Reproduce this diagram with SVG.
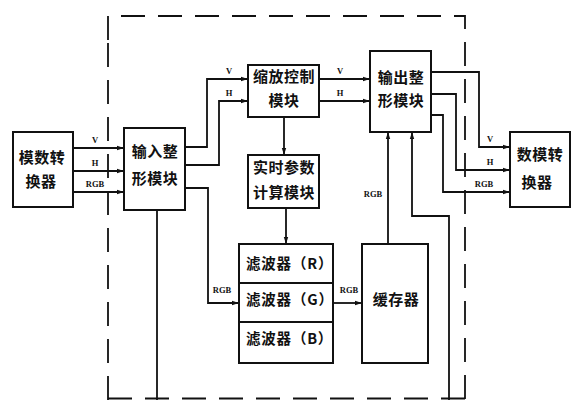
<svg xmlns="http://www.w3.org/2000/svg" width="577" height="400" viewBox="0 0 577 400">
<style>
.box{fill:#fff;stroke:#111;stroke-width:2}
.ln{fill:none;stroke:#111;stroke-width:1.8}
.dash{fill:none;stroke:#111;stroke-width:1.8;stroke-dasharray:24 13}
.t{font-family:"Noto Sans CJK SC","Noto Sans CJK JP",sans-serif;font-size:15px;font-weight:bold;fill:#111;text-anchor:middle;letter-spacing:0.5px}
.ft{font-family:"Noto Sans CJK SC","Noto Sans CJK JP",sans-serif;font-size:14.5px;font-weight:bold;fill:#111;letter-spacing:0.8px}
.lb{font-family:"Liberation Serif",serif;font-size:8.5px;font-weight:bold;fill:#111;text-anchor:middle}
</style>
<defs>
<marker id="ar" markerWidth="8" markerHeight="6" refX="7" refY="3" orient="auto" markerUnits="userSpaceOnUse">
<path d="M0,0.8 L7,3 L0,5.2 Z" fill="#111"/>
</marker>
</defs>
<rect width="577" height="400" fill="#fff"/>
<g id="border">
<path class="dash" d="M108,40 L108,16 L465,16 L465,400"/>
<path class="dash" d="M108,400 L108,40"/>
<path class="dash" d="M108,398.5 L465,398.5"/>
</g>
<g id="connectors">
<path class="ln" d="M73,148 L124,148" marker-end="url(#ar)"/>
<path class="ln" d="M73,171 L124,171" marker-end="url(#ar)"/>
<path class="ln" d="M73,192 L124,192" marker-end="url(#ar)"/>
<path class="ln" d="M185,147 L207,147 L207,79 L248,79" marker-end="url(#ar)"/>
<path class="ln" d="M185,165 L219,165 L219,101 L248,101" marker-end="url(#ar)"/>
<path class="ln" d="M185,188 L208,188 L208,303 L239,303" marker-end="url(#ar)"/>
<path class="ln" d="M319,79 L370,79" marker-end="url(#ar)"/>
<path class="ln" d="M319,101 L370,101" marker-end="url(#ar)"/>
<path class="ln" d="M284,117 L284,155" marker-end="url(#ar)"/>
<path class="ln" d="M286,208 L286,244" marker-end="url(#ar)"/>
<path class="ln" d="M333,303 L362,303" marker-end="url(#ar)"/>
<path class="ln" d="M388,244 L388,132" marker-end="url(#ar)"/>
<path class="ln" d="M449,400 L449,216 L412,216 L412,132" marker-end="url(#ar)"/>
<path class="ln" d="M157,210 L157,400"/>
<path class="ln" d="M431,72 L479,72 L479,147 L510,147" marker-end="url(#ar)"/>
<path class="ln" d="M431,94 L456,94 L456,170 L510,170" marker-end="url(#ar)"/>
<path class="ln" d="M431,115 L443,115 L443,192 L510,192" marker-end="url(#ar)"/>
<text class="lb" x="95" y="143">V</text>
<text class="lb" x="95" y="166">H</text>
<text class="lb" x="95" y="187">RGB</text>
<text class="lb" x="229" y="74">V</text>
<text class="lb" x="229" y="96">H</text>
<text class="lb" x="340" y="74">V</text>
<text class="lb" x="340" y="96">H</text>
<text class="lb" x="222" y="293">RGB</text>
<text class="lb" x="349" y="293">RGB</text>
<text class="lb" x="373" y="197">RGB</text>
<text class="lb" x="490" y="142">V</text>
<text class="lb" x="490" y="165">H</text>
<text class="lb" x="484" y="187">RGB</text>
</g>
<g id="adc">
<rect class="box" x="13" y="132" width="60" height="75"/>
<text class="t" x="42" y="163">模数转</text>
<text class="t" x="41" y="187">换器</text>
</g>
<g id="input">
<rect class="box" x="124" y="128" width="61" height="82"/>
<text class="t" x="155" y="157">输入整</text>
<text class="t" x="155" y="184">形模块</text>
</g>
<g id="scale">
<rect class="box" x="248" y="65" width="71" height="52"/>
<text class="t" x="284" y="82">缩放控制</text>
<text class="t" x="284" y="106">模块</text>
</g>
<g id="output">
<rect class="box" x="370" y="51" width="61" height="81"/>
<text class="t" x="401" y="83">输出整</text>
<text class="t" x="401" y="106">形模块</text>
</g>
<g id="dac">
<rect class="box" x="510" y="132" width="60" height="75"/>
<text class="t" x="540" y="160">数模转</text>
<text class="t" x="537" y="188">换器</text>
</g>
<g id="realtime">
<rect class="box" x="248" y="155" width="71" height="53"/>
<text class="t" x="284" y="173">实时参数</text>
<text class="t" x="284" y="198">计算模块</text>
</g>
<g id="filters">
<rect class="box" x="239" y="244" width="94" height="119"/>
<line class="ln" x1="239" y1="283" x2="333" y2="283"/>
<line class="ln" x1="239" y1="322" x2="333" y2="322"/>
<text class="ft" x="246" y="269">滤波器（R）</text>
<text class="ft" x="246" y="305">滤波器（G）</text>
<text class="ft" x="246" y="344">滤波器（B）</text>
</g>
<g id="buffer">
<rect class="box" x="362" y="244" width="66" height="119"/>
<text class="t" x="396" y="305">缓存器</text>
</g>
</svg>
